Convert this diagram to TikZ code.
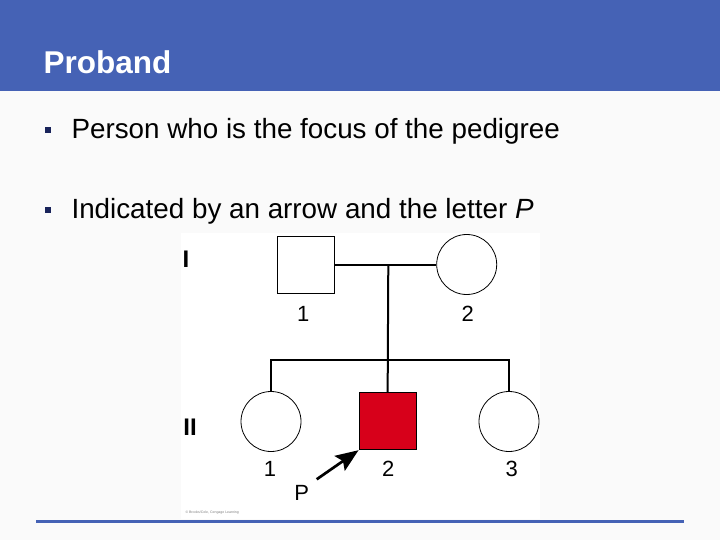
\documentclass[tikz,border=0pt]{standalone}
\usepackage{fontspec}
\setmainfont{Liberation Sans}
\usetikzlibrary{arrows.meta,positioning}

\definecolor{slideblue}{RGB}{69,98,181}
\definecolor{bulletnavy}{RGB}{25,35,90}
\definecolor{probandred}{RGB}{215,0,26}

\tikzset{
  male/.style={draw, rectangle, line width=0.8pt, minimum size=57pt, inner sep=0pt, fill=white},
  female/.style={draw, circle, line width=0.8pt, minimum size=60pt, inner sep=0pt, fill=white},
  kinline/.style={line width=2pt},
  num/.style={font=\fontsize{22}{22}\selectfont},
  gen/.style={font=\fontsize{24}{24}\selectfont\bfseries},
  bullet/.style={fill=bulletnavy, minimum width=6pt, minimum height=6pt, inner sep=0pt},
  point/.style={anchor=base west, font=\fontsize{27.8}{28}\selectfont}
}

\begin{document}
\begin{tikzpicture}[x=1pt,y=-1pt]
    \useasboundingbox (0,0) rectangle (720,540);

    % Slide background and title bar
    \fill[white!98!black] (0,0) rectangle (720,540);
    \fill[slideblue] (0,0) rectangle (720,91);
    \node[anchor=base west, text=white, font=\fontsize{31.5}{32}\selectfont\bfseries] (title) at (40,74) {Proband};

    % Bullet points
    \node[point] (point1) at (68,138.5) {Person who is the focus of the pedigree};
    \node[point] (point2) at (68,218.5) {Indicated by an arrow and the letter \textit{P}};
    \node[bullet] (dot1) at (48.2,129.8) {};
    \node[bullet] (dot2) at (48.2,209.8) {};

    % Figure panel and bottom rule
    \fill[white] (181,233) rectangle (540,519);
    \draw[slideblue, line width=3pt] (36,521) -- (684,521);

    % Generation numerals
    \node[gen] (genI) at (186,259) {I};
    \node[gen] (genII) at (190,427) {II};

    % Parents
    \node[male] (I1) at (305.5,264.5) {};
    \node[female] (I2) at (466.7,264.5) {};

    % Children
    \node[female] (II1) at (271,421.5) {};
    \node[male, fill=probandred] (II2) at (387.5,421.3) {};
    \node[female] (II3) at (509,421.5) {};

    % Mating and sibship lines
    \coordinate (mate) at (388.3,264.5);
    \coordinate (sibs) at (388.3,360);
    \draw[kinline] (I1) -- (I2);
    \draw[kinline] (mate) -- (II2);
    \draw[kinline] (II1.north) |- (sibs) -| (II3.north);

    % Individual numbers
    \node[num] (n11) at (303.3,314) {1};
    \node[num] (n12) at (467.7,314) {2};
    \node[num] (n21) at (270,469) {1};
    \node[num] (n22) at (388.3,469) {2};
    \node[num] (n23) at (511.7,469) {3};

    % Proband arrow
    \node[num] (plabel) at (301.7,493) {P};
    \coordinate (ptail) at (316.7,479.3);
    \draw[-{Stealth[length=23pt,width=18pt,inset=4pt]}, line width=2.7pt] (ptail) -- (II2.south west);

    % Credit line
    \node[anchor=west, font=\fontsize{3.5}{4}\selectfont, text=gray] (credit) at (182,513) {\textcopyright{} Brooks/Cole, Cengage Learning};
\end{tikzpicture}
\end{document}
